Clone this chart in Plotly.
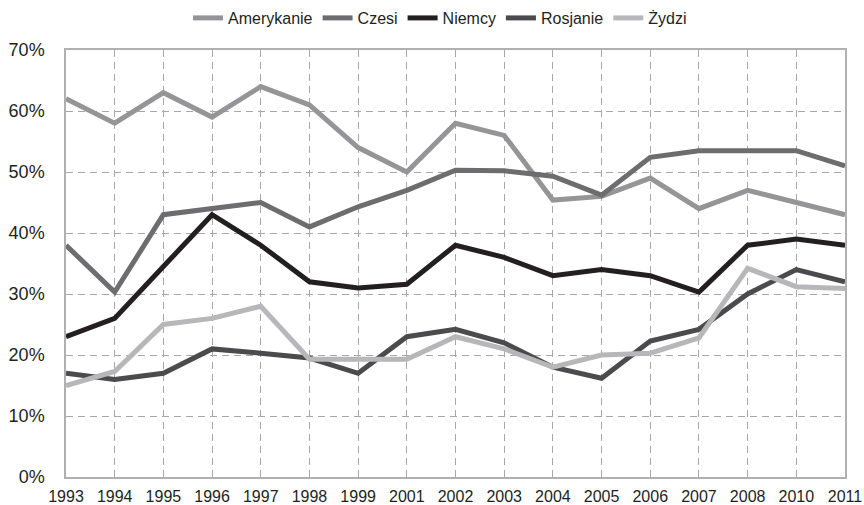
import plotly.graph_objects as go

years = ["1993", "1994", "1995", "1996", "1997", "1998", "1999", "2001", "2002",
         "2003", "2004", "2005", "2006", "2007", "2008", "2010", "2011"]

amerykanie = [62, 58, 63, 59, 64, 61, 54, 50, 58, 56, 45.4, 46, 49, 44, 47, 45, 43]
czesi = [38, 30.3, 43, 44, 45, 41, 44.3, 47, 50.3, 50.2, 49.3, 46.2, 52.4, 53.5, 53.5, 53.5, 51]
niemcy = [23, 26, 34.5, 43, 38, 32, 31, 31.6, 38, 36, 33, 34, 33, 30.3, 38, 39, 38]
rosjanie = [17, 16, 17, 21, 20.3, 19.5, 17, 23, 24.2, 22, 18, 16.2, 22.3, 24.2, 30, 34, 32]
zydzi = [15, 17.3, 25, 26, 28, 19.3, 19.3, 19.3, 23, 21, 18, 20, 20.3, 22.8, 34.2, 31.2, 30.9]

series = [
    ("Amerykanie", amerykanie, "#959597"),
    ("Czesi", czesi, "#6d6d70"),
    ("Niemcy", niemcy, "#231f20"),
    ("Rosjanie", rosjanie, "#4b4b4d"),
    ("Żydzi", zydzi, "#b7b7b9"),
]

fig = go.Figure()
for name, vals, color in series:
    fig.add_trace(go.Scatter(
        x=list(range(len(years))), y=vals, name=name, mode="lines",
        line=dict(color=color, width=5),
    ))

W, H = 864, 505

fig.update_layout(
    width=W, height=H,
    margin=dict(l=66, r=19, t=50, b=28, autoexpand=False),
    paper_bgcolor="white", plot_bgcolor="white",
    font=dict(family="Liberation Sans, Arial, sans-serif", color="#231f20", size=16),
    showlegend=True,
    legend=dict(orientation="h", xref="container", x=440 / W, xanchor="center",
                yref="container", y=1 - 18 / H, yanchor="middle",
                font=dict(size=16), bgcolor="rgba(0,0,0,0)"),
    xaxis=dict(
        tickmode="array", tickvals=list(range(len(years))), ticktext=years,
        range=[0, len(years) - 1], showgrid=True, gridcolor="#a7a7a9",
        griddash="7px,5px", gridwidth=1, showline=True, linecolor="#b0b0b2",
        linewidth=1.5, mirror=True, zeroline=False, ticks="",
        tickfont=dict(size=16), ticklabelstandoff=4, automargin=False,
        ticklabeloverflow="allow",
    ),
    yaxis=dict(
        range=[0, 70], tickvals=[0, 10, 20, 30, 40, 50, 60, 70],
        ticktext=["0%", "10%", "20%", "30%", "40%", "50%", "60%", "70%"],
        showgrid=True, gridcolor="#a7a7a9", griddash="7px,5px", gridwidth=1,
        showline=True, linecolor="#b0b0b2", linewidth=1.5, mirror=True,
        zeroline=False, ticks="", tickfont=dict(size=18), ticklabelstandoff=16,
        automargin=False, ticklabeloverflow="allow",
    ),
)

fig.write_html(
    "out.html",
    config={"displayModeBar": False},
    post_script="document.body.style.margin='0';document.body.style.overflow='hidden';",
)
